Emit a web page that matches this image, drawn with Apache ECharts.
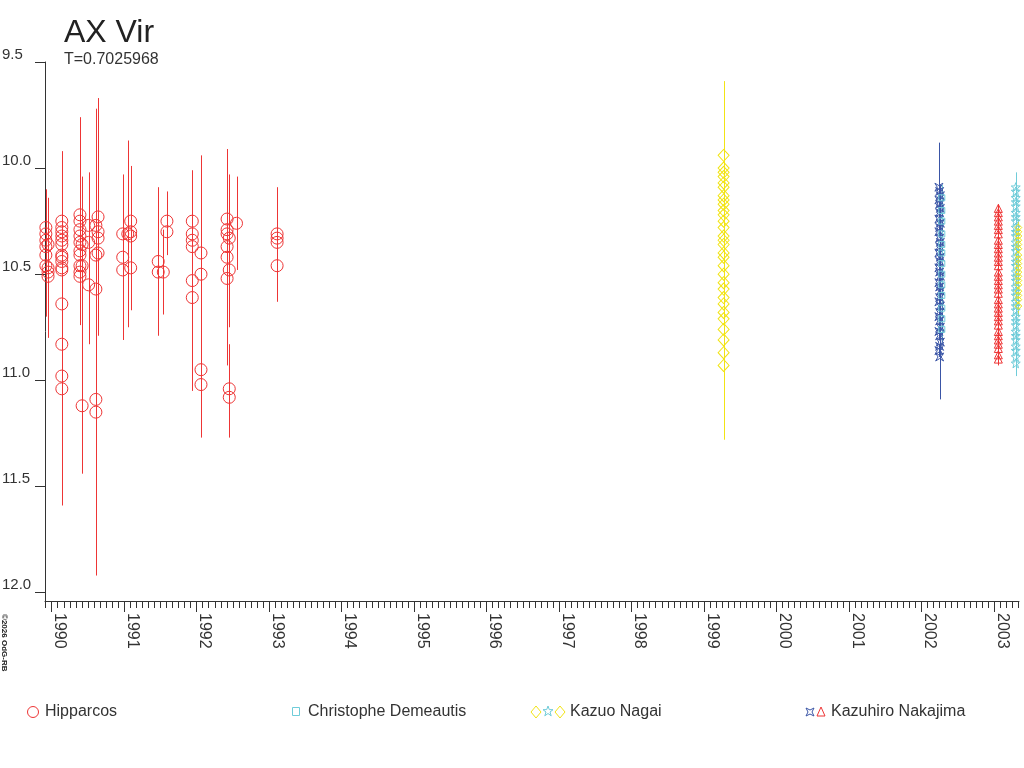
<!DOCTYPE html>
<html>
<head>
<meta charset="utf-8">
<script src="https://cdn.jsdelivr.net/npm/echarts@6/dist/echarts.min.js"></script>
<style>
html,body{margin:0;padding:0;background:#fff;}
#chart{width:1024px;height:768px;}
</style>
</head>
<body>
<div id="chart"></div>
<script>
// ---------- data ----------
const yearTicks = [1990,1991,1992,1993,1994,1995,1996,1997,1998,1999,2000,2001,2002,2003];
const magTicks = [9.5,10.0,10.5,11.0,11.5,12.0];

// Hipparcos (red circles)
const hipDates = [
  1989.92,1989.92,1989.92,1989.92,1989.92,1989.92,
  1989.95,1989.95,1989.95,1989.95,
  1990.14,1990.14,1990.14,1990.14,1990.14,1990.14,1990.14,1990.14,1990.14,1990.14,1990.14,1990.14,1990.14,1990.14,1990.14,
  1990.39,1990.39,1990.39,1990.39,1990.39,1990.39,1990.39,1990.39,1990.39,1990.39,
  1990.42,1990.42,1990.42,
  1990.51,1990.51,1990.51,
  1990.61,1990.61,1990.61,1990.61,1990.61,
  1990.64,1990.64,1990.64,1990.64,
  1990.98,1990.98,1990.98,
  1991.05,
  1991.09,1991.09,1991.09,1991.09,
  1991.47,1991.47,
  1991.54,
  1991.59,1991.59,
  1991.94,1991.94,1991.94,1991.94,1991.94,1991.94,
  1992.06,1992.06,1992.06,1992.06,
  1992.42,1992.42,1992.42,1992.42,1992.42,1992.42,
  1992.45,1992.45,1992.45,1992.45,
  1992.55,
  1993.11,1993.11,1993.11,1993.11
];
const hipMags = [
  10.28,10.31,10.34,10.37,10.41,10.46,
  10.36,10.47,10.49,10.51,
  10.25,10.28,10.30,10.32,10.34,10.36,10.41,10.42,10.44,10.47,10.48,10.64,10.83,10.98,11.04,
  10.22,10.25,10.29,10.32,10.35,10.39,10.41,10.46,10.49,10.51,
  10.46,10.36,11.12,
  10.27,10.35,10.55,
  10.27,10.41,10.57,11.09,11.15,
  10.23,10.30,10.33,10.40,
  10.31,10.42,10.48,
  10.31,
  10.25,10.30,10.32,10.47,
  10.44,10.49,
  10.49,
  10.25,10.30,
  10.25,10.31,10.34,10.37,10.53,10.61,
  10.40,10.50,10.95,11.02,
  10.24,10.29,10.31,10.37,10.42,10.52,
  10.33,10.48,11.04,11.08,
  10.26,
  10.31,10.33,10.35,10.46
];
const hipErrs = [
  0.18,0.20,0.20,0.22,0.29,0.22,
  0.22,0.25,0.25,0.29,
  0.33,0.25,0.25,0.35,0.25,0.25,0.30,0.28,0.30,0.30,0.30,0.35,0.40,0.40,0.55,
  0.46,0.25,0.25,0.20,0.20,0.25,0.20,0.25,0.25,0.20,
  0.42,0.25,0.32,
  0.25,0.20,0.28,
  0.55,0.30,0.30,0.30,0.77,
  0.56,0.30,0.30,0.30,
  0.25,0.39,0.30,
  0.44,
  0.26,0.20,0.33,0.20,
  0.35,0.25,
  0.20,
  0.14,0.11,
  0.23,0.25,0.25,0.25,0.52,0.30,
  0.46,0.30,0.25,0.25,
  0.33,0.30,0.30,0.30,0.51,0.30,
  0.30,0.27,0.21,0.19,
  0.22,
  0.20,0.20,0.26,0.17
];

// Kazuo Nagai 1999 (yellow diamonds)
const nagaiDates = [
  1999.27,1999.27,1999.27,1999.27,1999.27,1999.27,1999.27,1999.27,1999.27,1999.27,
  1999.27,1999.27,1999.27,1999.27,1999.27,1999.27,1999.27,1999.27,1999.27,1999.27,
  1999.27,1999.27,1999.27,1999.27,1999.27,1999.27,1999.27,1999.27,1999.27,1999.27
];
const nagaiMags = [
  9.94,10.00,10.02,10.04,10.07,10.09,10.13,10.15,10.17,10.20,
  10.22,10.25,10.28,10.32,10.34,10.36,10.40,10.42,10.46,10.50,
  10.54,10.57,10.61,10.64,10.68,10.71,10.76,10.81,10.87,10.93
];
const nagaiErrs = [
  0.35,0.34,0.33,0.35,0.34,0.35,0.33,0.34,0.35,0.33,
  0.34,0.35,0.33,0.34,0.35,0.34,0.33,0.35,0.34,0.33,
  0.35,0.34,0.33,0.35,0.34,0.33,0.35,0.34,0.33,0.35
];

// Kazuhiro Nakajima 2002 (blue)
const nakBlueDates = [
  2002.24,2002.25,2002.26,2002.24,2002.25,2002.26,2002.25,2002.24,2002.26,2002.25,
  2002.24,2002.25,2002.26,2002.25,2002.24,2002.26,2002.25,2002.24,2002.25,2002.26,
  2002.24,2002.25,2002.26,2002.25,2002.24,2002.26,2002.25,2002.24,2002.25,2002.26,
  2002.24,2002.25,2002.26,2002.25,2002.24,2002.25
];
const nakBlueMags = [
  10.09,10.11,10.13,10.15,10.17,10.19,10.21,10.24,10.26,10.28,
  10.30,10.33,10.35,10.37,10.40,10.42,10.44,10.47,10.49,10.51,
  10.54,10.56,10.58,10.61,10.63,10.65,10.68,10.70,10.72,10.75,
  10.77,10.79,10.82,10.84,10.86,10.89
];
const nakBlueErrs = [
  0.21,0.03,0.04,0.03,0.05,0.03,0.04,0.03,0.05,0.04,
  0.03,0.04,0.05,0.03,0.04,0.03,0.05,0.04,0.03,0.04,
  0.05,0.03,0.04,0.03,0.05,0.04,0.03,0.04,0.05,0.03,
  0.04,0.03,0.05,0.04,0.03,0.20
];

// Christophe Demeautis 2002 (cyan squares)
const demDates = [2002.28,2002.28,2002.28,2002.28,2002.28,2002.28,2002.28,2002.28,2002.28,2002.28,2002.28,2002.28,2002.28];
const demMags = [10.14,10.20,10.25,10.31,10.36,10.40,10.45,10.50,10.55,10.60,10.66,10.71,10.76];
const demErrs = [0.06,0.05,0.07,0.05,0.06,0.05,0.07,0.06,0.05,0.06,0.07,0.05,0.06];

// Kazuhiro Nakajima 2003 (red triangles)
const nakRedDates = [
  2003.06,2003.06,2003.06,2003.06,2003.06,2003.06,2003.06,2003.06,2003.06,2003.06,
  2003.06,2003.06,2003.06,2003.06,2003.06,2003.06,2003.06,2003.06,2003.06,2003.06,
  2003.06,2003.06,2003.06,2003.06,2003.06,2003.06,2003.06,2003.06,2003.06,2003.06,
  2003.06,2003.06,2003.06,2003.06
];
const nakRedMags = [
  10.19,10.21,10.23,10.25,10.27,10.29,10.31,10.34,10.36,10.38,
  10.40,10.42,10.44,10.46,10.49,10.51,10.53,10.55,10.57,10.59,
  10.62,10.64,10.66,10.68,10.70,10.72,10.74,10.77,10.79,10.81,
  10.83,10.85,10.88,10.90
];
const nakRedErrs = [
  0.02,0.02,0.03,0.02,0.02,0.03,0.02,0.02,0.03,0.02,
  0.02,0.03,0.02,0.02,0.03,0.02,0.02,0.03,0.02,0.02,
  0.03,0.02,0.02,0.03,0.02,0.02,0.03,0.02,0.02,0.03,
  0.02,0.02,0.03,0.03
];

// Kazuo Nagai 2003 (cyan stars)
const nagaiStarDates = [
  2003.30,2003.30,2003.30,2003.30,2003.30,2003.30,2003.30,2003.30,2003.30,2003.30,
  2003.30,2003.30,2003.30,2003.30,2003.30,2003.30,2003.30,2003.30,2003.30,2003.30,
  2003.30,2003.30,2003.30,2003.30,2003.30,2003.30,2003.30,2003.30,2003.30,2003.30,
  2003.30,2003.30,2003.30,2003.30,2003.30,2003.30
];
const nagaiStarMags = [
  10.09,10.11,10.14,10.16,10.18,10.21,10.23,10.25,10.28,10.30,
  10.32,10.35,10.37,10.39,10.42,10.44,10.46,10.49,10.51,10.53,
  10.56,10.58,10.60,10.63,10.65,10.67,10.70,10.72,10.74,10.77,
  10.79,10.81,10.84,10.86,10.89,10.92
];
const nagaiStarErrs = [
  0.07,0.04,0.05,0.04,0.05,0.04,0.05,0.04,0.05,0.04,
  0.05,0.04,0.05,0.04,0.05,0.04,0.05,0.04,0.05,0.04,
  0.05,0.04,0.05,0.04,0.05,0.04,0.05,0.04,0.05,0.04,
  0.05,0.04,0.05,0.04,0.05,0.06
];

// Kazuo Nagai 2003 (yellow diamonds)
const nagai03Dates = [
  2003.335,2003.335,2003.335,2003.335,2003.335,2003.335,2003.335,2003.335,2003.335,
  2003.335,2003.335,2003.335,2003.335,2003.335,2003.335,2003.335,2003.335,2003.335
];
const nagai03Mags = [
  10.28,10.30,10.32,10.34,10.36,10.38,10.41,10.43,10.45,
  10.47,10.49,10.51,10.53,10.55,10.58,10.60,10.62,10.65
];
const nagai03Errs = [
  0.04,0.03,0.04,0.03,0.04,0.03,0.04,0.03,0.04,
  0.03,0.04,0.03,0.04,0.03,0.04,0.03,0.04,0.05
];

// ---------- styling ----------
const RED = '#ee3535', YEL = '#f2e415', CYAN = '#6fccd9', BLUE = '#3a55a6';
const FONT = '"Liberation Sans", Arial, sans-serif';
const TXT = '#333';
const STAR = 'path://M5,0L6.2,3.4L10,3.5L7,5.8L8.1,9.5L5,7.3L1.9,9.5L3,5.8L0,3.5L3.8,3.4Z';
const CROSS = 'path://M0,0L5,3L10,0L7,5L10,10L5,7L0,10L3,5Z';

const monthTicks = [];
for (let y = 1989; y <= 2003; y++) for (let m = 0; m < 12; m++) {
  const v = +(y + m / 12).toFixed(4);
  if (v >= 1989.908 && v <= 2003.345) monthTicks.push(v);
}

function zip3(d, m, e) { return d.map((x, i) => [x, m[i], e[i]]); }
function barData(d, m, e) { return d.map((x, i) => [x, +(m[i] - e[i]).toFixed(3), +(m[i] + e[i]).toFixed(3)]); }

function errSeries(d, m, e, color) {
  return {
    type: 'custom', silent: true, z: 1, xAxisIndex: 0, yAxisIndex: 0,
    data: barData(d, m, e),
    encode: { x: 0, y: [1, 2] },
    renderItem: function (params, api) {
      const p1 = api.coord([api.value(0), api.value(1)]);
      const p2 = api.coord([api.value(0), api.value(2)]);
      const x = Math.round(p1[0]) + 0.5;
      return { type: 'line', shape: { x1: x, y1: p1[1], x2: x, y2: p2[1] },
               style: { stroke: color, lineWidth: 1 } };
    }
  };
}
function symSeries(name, d, m, e, symbol, size, color) {
  return {
    name: name, type: 'scatter', silent: true, z: 2, xAxisIndex: 0, yAxisIndex: 0,
    symbol: symbol, symbolSize: size,
    itemStyle: { color: 'rgba(0,0,0,0)', borderColor: color, borderWidth: 1, opacity: 1 },
    data: zip3(d, m, e)
  };
}

const chart = echarts.init(document.getElementById('chart'), null, { renderer: 'canvas' });
chart.setOption({
  animation: false,
  backgroundColor: '#fff',
  textStyle: { fontFamily: FONT },
  title: {
    text: 'AX Vir', subtext: 'T=0.7025968', left: 59, top: 12, itemGap: 3,
    textStyle: { fontFamily: FONT, fontSize: 32, fontWeight: 'normal', color: '#222' },
    subtextStyle: { fontFamily: FONT, fontSize: 16, color: TXT }
  },
  grid: { left: 45, right: 5, top: 62, bottom: 167, containLabel: false, outerBoundsMode: 'none' },
  xAxis: [{
    type: 'value', min: 1989.908, max: 2003.345, position: 'bottom',
    axisLine: { show: true, lineStyle: { color: TXT, width: 1 } },
    axisTick: { show: true, customValues: yearTicks, length: 11, lineStyle: { color: TXT } },
    axisLabel: { show: true, customValues: yearTicks, rotate: -90, margin: 12,
      align: 'left', verticalAlign: 'bottom',
      fontFamily: FONT, fontSize: 16, color: TXT, formatter: v => String(Math.round(v)) },
    splitLine: { show: false }
  }, {
    type: 'value', min: 1989.908, max: 2003.345, position: 'bottom',
    axisLine: { show: false },
    axisTick: { show: true, customValues: monthTicks, length: 7, lineStyle: { color: TXT } },
    axisLabel: { show: false },
    splitLine: { show: false }
  }],
  yAxis: {
    type: 'value', inverse: true, min: 9.5, max: 12.04,
    axisLine: { show: true, lineStyle: { color: TXT, width: 1 } },
    axisTick: { show: true, customValues: magTicks, length: 10, lineStyle: { color: TXT } },
    axisLabel: { show: true, customValues: magTicks, margin: 43, align: 'left', verticalAlign: 'bottom',
      fontFamily: FONT, fontSize: 15, color: TXT, formatter: v => v.toFixed(1) },
    splitLine: { show: false }
  },
  series: [
    errSeries(hipDates, hipMags, hipErrs, RED),
    errSeries(nagaiDates, nagaiMags, nagaiErrs, YEL),
    errSeries(nakBlueDates, nakBlueMags, nakBlueErrs, BLUE),
    errSeries(demDates, demMags, demErrs, CYAN),
    errSeries(nakRedDates, nakRedMags, nakRedErrs, RED),
    errSeries(nagaiStarDates, nagaiStarMags, nagaiStarErrs, CYAN),
    errSeries(nagai03Dates, nagai03Mags, nagai03Errs, YEL),
    symSeries('Hipparcos', hipDates, hipMags, hipErrs, 'circle', 12, RED),
    symSeries('Kazuo Nagai', nagaiDates, nagaiMags, nagaiErrs, 'diamond', [11, 12], YEL),
    symSeries('Kazuhiro Nakajima', nakBlueDates, nakBlueMags, nakBlueErrs, CROSS, 8, BLUE),
    symSeries('Christophe Demeautis', demDates, demMags, demErrs, 'rect', 6, CYAN),
    symSeries('Kazuhiro Nakajima 2', nakRedDates, nakRedMags, nakRedErrs, 'triangle', 8, RED),
    symSeries('Kazuo Nagai 2', nagaiStarDates, nagaiStarMags, nagaiStarErrs, STAR, 9, CYAN),
    symSeries('Kazuo Nagai 3', nagai03Dates, nagai03Mags, nagai03Errs, 'diamond', 7, YEL)
  ],
  graphic: [
    { type: 'text', x: 4, y: 614, rotation: -Math.PI / 2,
      style: { text: '©2026 OdG-RB', font: 'bold 8px ' + FONT, fill: '#222', align: 'left', verticalAlign: 'middle' } },
    // legend
    { type: 'circle', shape: { cx: 33, cy: 712, r: 5.5 }, style: { fill: 'none', stroke: RED, lineWidth: 1 } },
    { type: 'text', x: 45, y: 712, style: { text: 'Hipparcos', font: '16px ' + FONT, fill: TXT, verticalAlign: 'middle' } },
    { type: 'rect', shape: { x: 292.5, y: 707.5, width: 7, height: 8 }, style: { fill: 'none', stroke: CYAN, lineWidth: 1 } },
    { type: 'text', x: 308, y: 712, style: { text: 'Christophe Demeautis', font: '16px ' + FONT, fill: TXT, verticalAlign: 'middle' } },
    { type: 'polygon', shape: { points: [[536, 706], [541, 712], [536, 718], [531, 712]] }, style: { fill: 'none', stroke: YEL, lineWidth: 1 } },
    { type: 'polygon', shape: { points: [[548,706],[549.3,709.6],[553,709.7],[550,712],[551.2,715.8],[548,713.5],[544.8,715.8],[546,712],[543,709.7],[546.7,709.6]] }, style: { fill: 'none', stroke: CYAN, lineWidth: 1 } },
    { type: 'polygon', shape: { points: [[560, 706], [565, 712], [560, 718], [555, 712]] }, style: { fill: 'none', stroke: YEL, lineWidth: 1 } },
    { type: 'text', x: 570, y: 712, style: { text: 'Kazuo Nagai', font: '16px ' + FONT, fill: TXT, verticalAlign: 'middle' } },
    { type: 'polygon', shape: { points: [[806,708],[810,710],[814,708],[812,712],[814,716],[810,714],[806,716],[808,712]] }, style: { fill: 'none', stroke: BLUE, lineWidth: 1 } },
    { type: 'polygon', shape: { points: [[821, 707], [825, 716], [817, 716]] }, style: { fill: 'none', stroke: RED, lineWidth: 1 } },
    { type: 'text', x: 831, y: 712, style: { text: 'Kazuhiro Nakajima', font: '16px ' + FONT, fill: TXT, verticalAlign: 'middle' } }
  ]
});
</script>
</body>
</html>
